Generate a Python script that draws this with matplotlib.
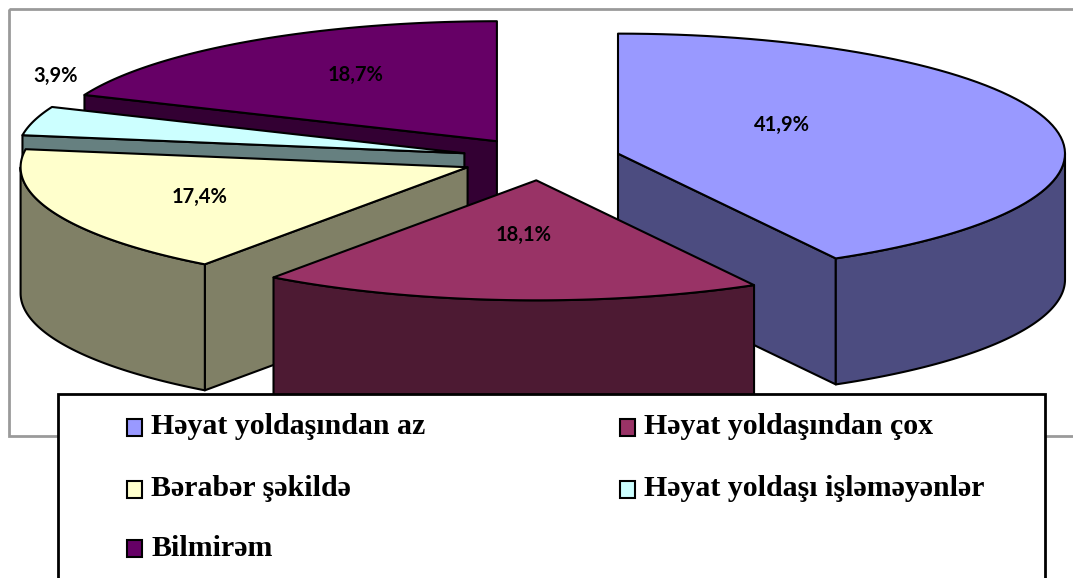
import numpy as np
import matplotlib
matplotlib.use("Agg")
from matplotlib import pyplot as plt
from matplotlib.patches import Polygon, Rectangle

# data
labels = ["Həyat yoldaşından az", "Həyat yoldaşından çox", "Bərabər şəkildə",
          "Həyat yoldaşı işləməyənlər", "Bilmirəm"]
shares = [41.9, 18.1, 17.4, 3.9, 18.7]
pct_text = ["41,9%", "18,1%", "17,4%", "3,9%", "18,7%"]
top_colors = ["#9999FF", "#993366", "#FFFFCC", "#CCFFFF", "#660066"]
side_colors = ["#4C4C80", "#4D1A33", "#808066", "#668080", "#330033"]

# layout of the fake 3D pie (pixel units)
cx, cy = 541, 159
rx, ry = 447, 120
depth = 126
explode = 0.178
lab_frac = [0.38, 0.46, 0.65, 0.95, 0.57]
lab_lift = [-17, 0, 0, -46, -9]

fig = plt.figure(figsize=(10.73, 5.78), dpi=100)
ax = fig.add_axes([0, 0, 1, 1])
ax.set_xlim(0, 1073)
ax.set_ylim(578, 0)
ax.axis("off")


def rim(vx, vy, ang):
    t = np.radians(ang)
    return vx + rx * np.sin(t), vy - ry * np.cos(t)


def arc(vx, vy, a, b, n=80):
    t = np.linspace(a, b, n)
    x, y = rim(vx, vy, t)
    return np.column_stack([x, y])


edge = dict(edgecolor="black", linewidth=1.5, joinstyle="round")

bounds = np.concatenate([[0], np.cumsum(shares)]) / sum(shares) * 360
mids = (bounds[:-1] + bounds[1:]) / 2
order = np.argsort(-np.cos(np.radians(mids)))  # back slices first

for i in order:
    a1, a2, m = bounds[i], bounds[i + 1], mids[i]
    vx = cx + explode * rx * np.sin(np.radians(m))
    vy = cy - explode * ry * np.cos(np.radians(m))
    down = np.array([0, depth])

    # radial cut faces
    for a, vis in [(a1, np.sin(np.radians(a1)) < -1e-6), (a2, np.sin(np.radians(a2)) > 1e-6)]:
        if vis:
            p = np.array(rim(vx, vy, a))
            v = np.array([vx, vy])
            ax.add_patch(Polygon([v, p, p + down, v + down], closed=True,
                                 facecolor=side_colors[i], **edge))
    # outer curved face (front half only)
    lo, hi = max(a1, 90), min(a2, 270)
    if hi > lo:
        top = arc(vx, vy, lo, hi)
        ax.add_patch(Polygon(np.vstack([top, (top + down)[::-1]]), closed=True,
                             facecolor=side_colors[i], **edge))
    # top face
    ax.add_patch(Polygon(np.vstack([[vx, vy], arc(vx, vy, a1, a2)]), closed=True,
                         facecolor=top_colors[i], **edge))
    # value label
    lx, ly = vx + lab_frac[i] * rx * np.sin(np.radians(m)), vy - lab_frac[i] * ry * np.cos(np.radians(m))
    ax.text(lx, ly + lab_lift[i], pct_text[i], ha="center", va="center",
            fontsize=14.5, fontweight="bold", family=["Lato", "DejaVu Sans"], color="black", zorder=5)

# chart area border
ax.add_patch(Rectangle((9, 9), 1120, 427, facecolor="none", edgecolor="#9A9A9A",
                       linewidth=2, zorder=0.5))

# legend
ax.add_patch(Rectangle((58, 394), 987, 220, facecolor="white", edgecolor="black",
                       linewidth=2, zorder=6))
col_x = [127, 620]
row_y = [427, 489, 548]
for k, lab in enumerate(labels):
    mx, my = col_x[k % 2], row_y[k // 2]
    ax.add_patch(Rectangle((mx, my - 8.5), 15, 17, facecolor=top_colors[k],
                           edgecolor="black", linewidth=1.5, zorder=7))
    ax.text(mx + 24, my, lab, ha="left", va="center", fontsize=21.5, fontweight="bold",
            family=["Liberation Serif", "DejaVu Serif"], color="black", zorder=7)

fig.savefig("out.png", dpi=100)
